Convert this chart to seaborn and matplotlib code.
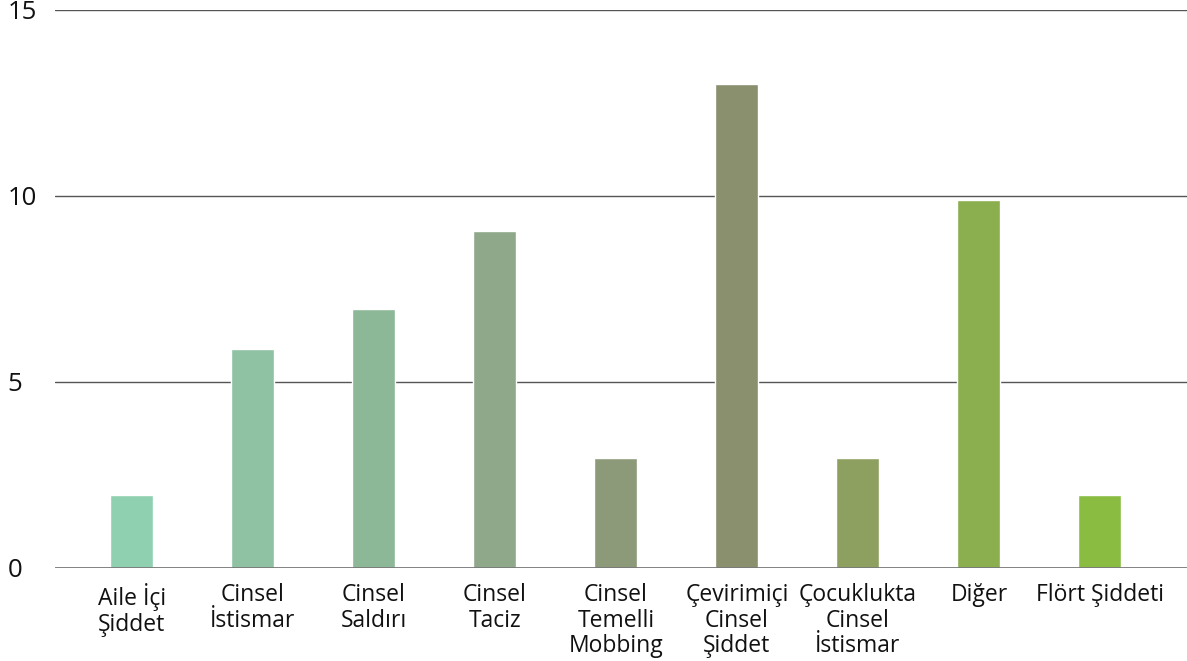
import matplotlib
matplotlib.use("Agg")
import matplotlib.pyplot as plt
import seaborn as sns
import pandas as pd

categories = ["Aile İçi\nŞiddet", "Cinsel\nİstismar", "Cinsel\nSaldırı", "Cinsel\nTaciz",
              "Cinsel\nTemelli\nMobbing", "Çevirimiçi\nCinsel\nŞiddet", "Çocuklukta\nCinsel\nİstismar",
              "Diğer", "Flört Şiddeti"]
values = [1.95, 5.9, 6.95, 9.05, 2.95, 13, 2.95, 9.9, 1.95]
colors = ["#8fd0b1", "#8fc1a3", "#8cb898", "#8fa88a", "#8d9a7a", "#8a906e", "#8da05f", "#8bae4f", "#8abc42"]
yticks = [0, 5, 10, 15]

sns.set_theme(style="white")
plt.rcParams['font.family'] = ['Open Sans', 'DejaVu Sans']

df = pd.DataFrame({"cat": categories, "val": values})
fig = plt.figure(figsize=(11.87, 6.61), dpi=100)
ax = fig.add_axes([0.0463, 0.1407, 0.9537, 0.8442])
sns.barplot(data=df, x="cat", y="val", hue="cat", palette=colors, legend=False,
            width=0.355, ax=ax, saturation=1)
ax.set_ylim(0, 15)
ax.set_xlim(-0.636, 8.72)
ax.set_yticks(yticks)
for y in yticks[1:]:
    ax.axhline(y, color="#555555", lw=1, zorder=0)
ax.axhline(0, color="#777777", lw=2, zorder=3)
for s in ax.spines.values():
    s.set_visible(False)
ax.set_xlabel("")
ax.set_ylabel("")
ax.tick_params(axis="y", length=0, pad=34, labelsize=18.5, colors="#111111")
ax.tick_params(axis="x", length=0, pad=11, labelsize=16.5, colors="#111111")
for lab in ax.get_yticklabels():
    lab.set_horizontalalignment("left")
for lab in ax.get_xticklabels():
    lab.set_linespacing(1.07)
fig.savefig("out.png", dpi=100)
